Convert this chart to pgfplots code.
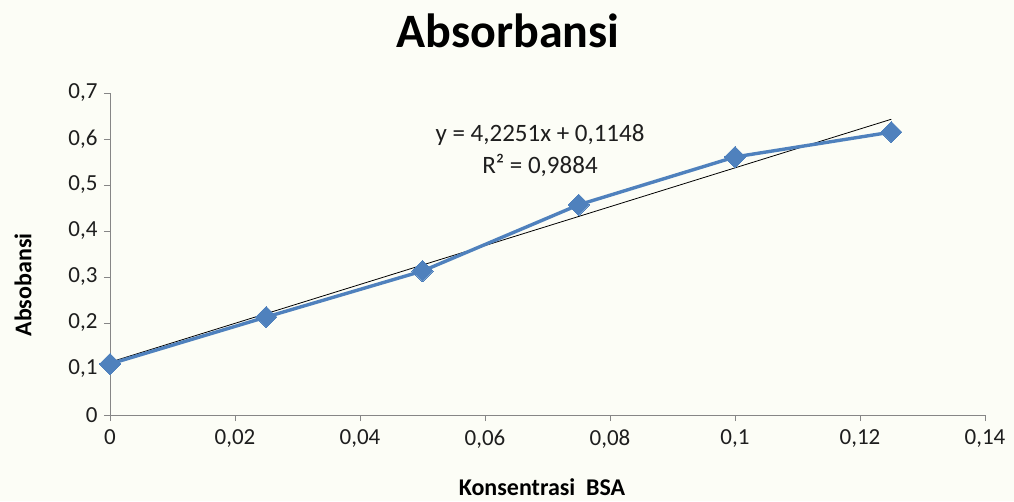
\documentclass[border=0pt]{standalone}
\usepackage{pgfplots}
\pgfplotsset{compat=1.18}
\usepackage{fontspec}
\setmainfont{Carlito}
\definecolor{bg}{RGB}{252,253,246}
\definecolor{ser}{RGB}{79,129,189}
\definecolor{axc}{RGB}{134,134,134}
\definecolor{txt}{RGB}{30,30,30}
\begin{document}
\begin{tikzpicture}
\fill[bg] (-110pt,-86pt) rectangle (904pt,415pt);
\begin{axis}[
  scale only axis, width=875pt, height=322pt,
  xmin=0, xmax=0.14, ymin=0, ymax=0.7,
  xtick={0,0.02,0.04,0.06,0.08,0.1,0.12,0.14},
  ytick={0,0.1,0.2,0.3,0.4,0.5,0.6,0.7},
  xticklabels={0,{0,02},{0,04},{0,06},{0,08},{0,1},{0,12},{0,14}},
  yticklabels={0,{0,1},{0,2},{0,3},{0,4},{0,5},{0,6},{0,7}},
  axis lines*=left, axis line style={axc, line width=0.8pt, -},
  tick style={axc, line width=0.8pt},
  tick align=outside, major tick length=6pt,
  ticklabel style={font=\fontsize{23}{27}\selectfont, text=txt},
  xticklabel style={yshift=-5pt},
  yticklabel style={xshift=-3pt},
  clip=false,
]
\addplot[black, line width=0.8pt] coordinates {(0,0.1148) (0.125,0.6429)};
\addplot[ser, line width=3.4pt, mark=square*, mark size=7.5pt, mark options={rotate=45, solid, fill=ser, draw=ser, line width=0pt}]
  coordinates {(0,0.111) (0.025,0.213) (0.05,0.313) (0.075,0.457) (0.1,0.561) (0.125,0.615)};
\end{axis}
\node[font=\fontsize{48}{56}\selectfont\bfseries, text=black] at (398pt,384pt) {Absorbansi};
\node[font=\fontsize{24}{28}\selectfont\bfseries, text=black, rotate=90] at (-87pt,130pt) {Absobansi};
\node[font=\fontsize{24}{28}\selectfont\bfseries, text=black] at (432pt,-72pt) {Konsentrasi\ \ BSA};
\node[font=\fontsize{25}{32}\selectfont, text=txt, align=center] at (430pt,264pt) {y = 4,2251x + 0,1148\\ R² = 0,9884};
\end{tikzpicture}
\end{document}
